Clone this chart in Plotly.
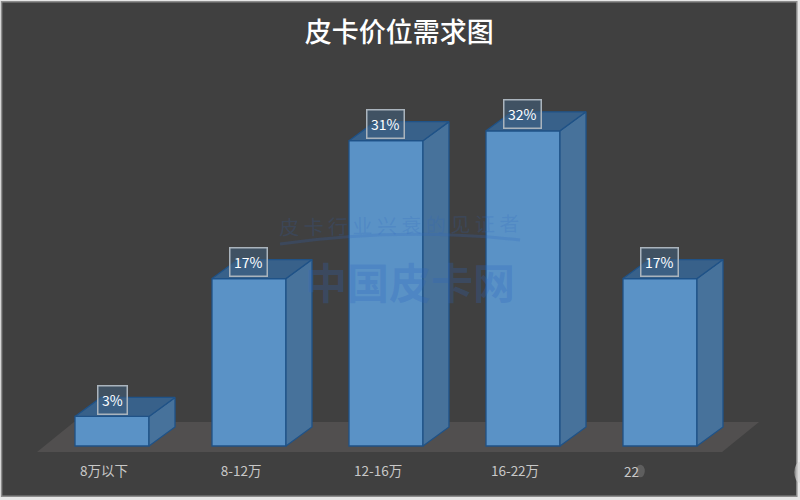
import plotly.graph_objects as go

categories = ["8万以下", "8-12万", "12-16万", "16-22万", "22"]
values = [3, 17, 31, 32, 17]
value_labels = ["3%", "17%", "31%", "32%", "17%"]

FONT = "Noto Sans CJK SC"
BG = "#404040"
BAR_W = 0.54
DX = 0.19      # oblique depth, category units
DY = 1.93      # oblique depth, value units
LABEL_SHIFT = -0.058
WM = "rgba(45,100,190,0.26)"
EDGE = dict(color="#1f5287", width=1.3)

x = list(range(len(categories)))
fig = go.Figure()

# panel and floor sit below the traces
fig.add_shape(type="rect", xref="x domain", yref="paper", x0=0.002, x1=0.996, y0=-0.098, y1=0.996,
              fillcolor=BG, line=dict(color="#8c8c8c", width=1.5), layer="below")
fig.add_shape(type="path", xref="x", yref="y", path="M -0.277 2.44 L 4.723 2.44 L 4.453 -0.61 L -0.547 -0.61 Z",
              fillcolor="#514f4f", line_width=0, layer="below")

# side and top faces, derived from values
for xi, v in zip(x, values):
    r = xi + BAR_W / 2
    l = xi - BAR_W / 2
    fig.add_trace(go.Scatter(x=[r, r + DX, r + DX, r, r], y=[0, DY, v + DY, v, 0], fill="toself",
                             fillcolor="#47729b", mode="lines", line=EDGE,
                             hoverinfo="skip", showlegend=False))
    fig.add_trace(go.Scatter(x=[l, r, r + DX, l + DX, l], y=[v, v, v + DY, v + DY, v], fill="toself",
                             fillcolor="#38618a", mode="lines", line=EDGE,
                             hoverinfo="skip", showlegend=False))

fig.add_trace(go.Bar(x=x, y=values, width=BAR_W, marker=dict(color="#5a92c6", line=EDGE),
                     hoverinfo="skip", showlegend=False))

# value labels
for xi, v, t in zip(x, values, value_labels):
    fig.add_annotation(x=xi, y=v + 1.7, text=t, showarrow=False, font=dict(family=FONT, size=14, color="#ffffff"),
                       bgcolor="rgba(64,96,128,0.55)", bordercolor="#aab4bd", borderwidth=1.5, borderpad=3.5)

# fifth category label as it is visible in the reference
fig.add_annotation(x=4, xref="x", y=-0.042, yref="paper", yanchor="middle", text=categories[4], showarrow=False,
                   xanchor="left", xshift=-38, font=dict(family=FONT, size=13.5, color="#c8c8c8"))
fig.add_shape(type="circle", xref="paper", yref="paper", x0=0.795, x1=0.806, y0=-0.056, y1=-0.028,
              fillcolor="rgba(200,200,200,0.22)", line_width=0, layer="above")
fig.add_shape(type="circle", xref="paper", yref="paper", x0=0.993, x1=1.006, y0=-0.068, y1=-0.022,
              fillcolor="rgba(210,210,210,0.6)", line_width=0, layer="above")

# watermark
fig.add_annotation(xref="paper", yref="paper", x=0.5125, y=0.38, text="中国皮卡网", showarrow=False,
                   font=dict(family=FONT, size=42, color=WM, weight="bold"))
fig.add_annotation(xref="paper", yref="paper", x=0.499, y=0.504, text="皮 卡 行 业 兴 衰 的 见 证 者", showarrow=False,
                   textangle=-1, font=dict(family="Noto Sans CJK TC", size=20, color="rgba(45,100,190,0.2)"))
fig.add_shape(type="path", xref="paper", yref="paper", path="M 0.35 0.46 Q 0.5 0.498 0.65 0.469",
              line=dict(color="rgba(45,100,190,0.22)", width=3), layer="above")

fig.update_layout(
    width=800, height=500, autosize=False,
    margin=dict(l=0, r=0, t=0, b=48),
    paper_bgcolor="#e6e6e6", plot_bgcolor="rgba(0,0,0,0)",
    title=dict(text="皮卡价位需求图", x=0.499, xanchor="center", y=0.934, yanchor="middle",
               font=dict(family=FONT, size=27, color="#ffffff", weight=500)),
    xaxis=dict(range=[-0.8175, 5.022], tickmode="array", tickvals=[i + LABEL_SHIFT for i in x[:4]], ticktext=categories[:4],
               showgrid=False, zeroline=False, showline=False, ticks="outside", ticklen=7, tickcolor="rgba(0,0,0,0)",
               tickfont=dict(family=FONT, size=13.5, color="#c8c8c8")),
    yaxis=dict(range=[-0.61, 45.28], visible=False),
)

fig.write_html("out.html", post_script="document.body.style.margin='0';", config=dict(displayModeBar=False))
